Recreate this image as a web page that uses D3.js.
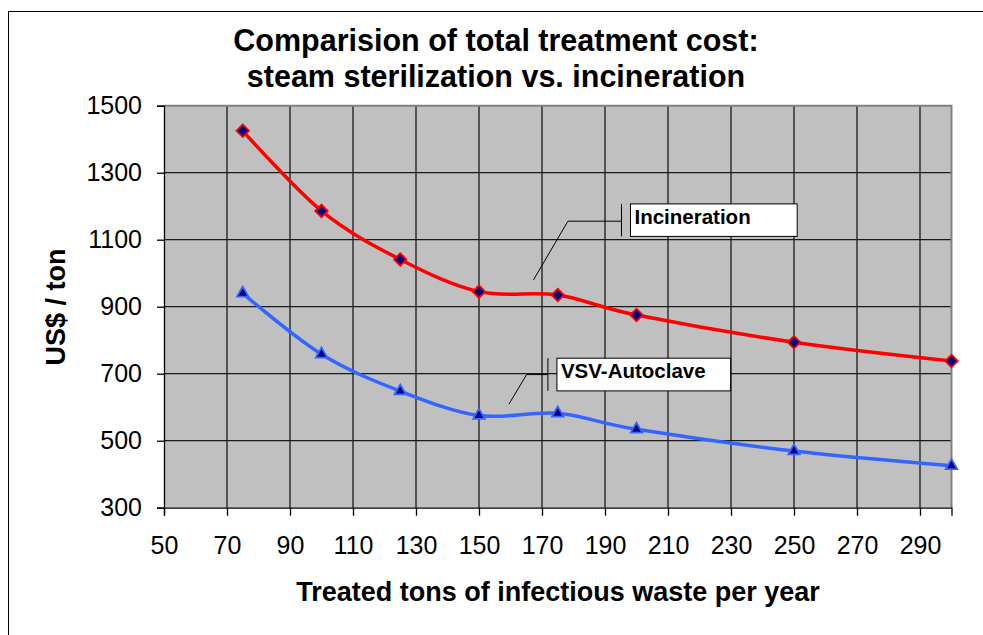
<!DOCTYPE html>
<html>
<head>
<meta charset="utf-8">
<script src="https://cdn.jsdelivr.net/npm/d3@7"></script>
<style>
  body { margin: 0; background: #fff; }
  svg { display: block; font-family: "Liberation Sans", Arial, sans-serif; }
</style>
</head>
<body>
<div id="chart"></div>
<script>
// data
const tons = [75, 100, 125, 150, 175, 200, 250, 300];
const incineration = [1425, 1186, 1041, 945, 935, 875, 794, 738];
const autoclave = [940, 758, 648, 575, 582, 534, 469, 425];
const xTicks = [50, 70, 90, 110, 130, 150, 170, 190, 210, 230, 250, 270, 290];
const yTicks = [300, 500, 700, 900, 1100, 1300, 1500];
const titleLines = ["Comparision of total treatment cost:", "steam sterilization vs. incineration"];

const W = 983, H = 635;
const margin = { top: 105.7, right: 31.5, bottom: 127.3, left: 164 };
const width = W - margin.left - margin.right;
const height = H - margin.top - margin.bottom;

const svg = d3.select("#chart").append("svg")
    .attr("width", W)
    .attr("height", H);

// outer chart frame (runs off the right and bottom edges)
svg.append("rect")
    .attr("x", 8.5).attr("y", 11.5)
    .attr("width", W + 20).attr("height", H + 20)
    .attr("fill", "none").attr("stroke", "#000").attr("stroke-width", 1);

const g = svg.append("g")
    .attr("transform", `translate(${margin.left}, ${margin.top})`);

const x = d3.scaleLinear().domain([50, 300]).range([0, width]);
const y = d3.scaleLinear().domain([300, 1500]).range([height, 0]);

g.append("rect")
    .attr("width", width).attr("height", height)
    .attr("fill", "#c0c0c0");

// grid
g.append("g").selectAll("line")
    .data(xTicks.slice(1))
    .join("line")
    .attr("x1", d => x(d)).attr("x2", d => x(d))
    .attr("y1", 0).attr("y2", height)
    .attr("stroke", "#1a1a1a").attr("stroke-width", 1.3);
g.append("g").selectAll("line")
    .data(yTicks.slice(1, -1))
    .join("line")
    .attr("x1", 0).attr("x2", width)
    .attr("y1", d => y(d)).attr("y2", d => y(d))
    .attr("stroke", "#1a1a1a").attr("stroke-width", 1.3);

// top and right frame of plot area
g.append("path")
    .attr("d", `M0,${y(1500)}H${x(300)}V${height}`)
    .attr("fill", "none").attr("stroke", "#808080").attr("stroke-width", 2);

const yAxis = g.append("g")
    .call(d3.axisLeft(y).tickValues(yTicks).tickFormat(d3.format("d")).tickSize(7).tickPadding(15));
const xAxis = g.append("g")
    .attr("transform", `translate(0, ${height})`)
    .call(d3.axisBottom(x).tickValues(xTicks).tickFormat(d3.format("d")).tickSize(8).tickPadding(21));

for (const ax of [xAxis, yAxis]) {
    ax.select(".domain").attr("stroke", "#000").attr("stroke-width", 1.3);
    ax.selectAll(".tick line").attr("stroke", "#000").attr("stroke-width", 1.3);
    ax.selectAll("text")
        .attr("fill", "#000")
        .style("font-family", "Liberation Sans, Arial, sans-serif")
        .style("font-size", "25px");
}

// series
const line = d3.line()
    .x(d => x(d[0]))
    .y(d => y(d[1]))
    .curve(d3.curveCardinal.tension(0));

const series = [
    { name: "Incineration", values: incineration, color: "#ff0000", symbol: "diamond" },
    { name: "VSV-Autoclave", values: autoclave, color: "#3366ff", symbol: "triangle" }
];

for (const s of series) {
    const pts = tons.map((t, i) => [t, s.values[i]]);
    g.append("path")
        .datum(pts)
        .attr("d", line)
        .attr("fill", "none")
        .attr("stroke", s.color)
        .attr("stroke-width", 3.5);

    const sym = s.symbol === "diamond"
        ? d3.symbol().type(d3.symbolSquare).size(78)
        : d3.symbol().type(d3.symbolTriangle).size(58);
    g.append("g").selectAll("path")
        .data(pts)
        .join("path")
        .attr("d", sym)
        .attr("transform", d => `translate(${x(d[0])}, ${y(d[1])})` + (s.symbol === "diamond" ? " rotate(45)" : ""))
        .attr("fill", "#000080")
        .attr("stroke", s.color)
        .attr("stroke-width", 1.8);
}

// callout labels: tip point in data units, the rest in pixel offsets
const callouts = [
    { text: "Incineration", tip: [167.3, 980], bend: [34.4, -58.7], bar: 88, top: -76, h: 32.5, w: 166.7 },
    { text: "VSV-Autoclave", tip: [159.5, 609], bend: [17.7, -29.6], bar: 39, top: -46, h: 32.7, w: 173.7 }
];

for (const c of callouts) {
    const tx = x(c.tip[0]), ty = y(c.tip[1]);
    const bx = tx + c.bend[0], by = ty + c.bend[1];
    const barX = tx + c.bar;
    g.append("path")
        .attr("d", `M${tx},${ty}L${bx},${by}H${barX}`)
        .attr("fill", "none").attr("stroke", "#000").attr("stroke-width", 1);
    g.append("line")
        .attr("x1", barX).attr("x2", barX)
        .attr("y1", ty + c.top).attr("y2", ty + c.top + c.h)
        .attr("stroke", "#000").attr("stroke-width", 1);
    g.append("rect")
        .attr("x", barX + 9).attr("y", ty + c.top)
        .attr("width", c.w).attr("height", c.h)
        .attr("fill", "#fff").attr("stroke", "#000").attr("stroke-width", 1);
    g.append("text")
        .attr("x", barX + 13).attr("y", ty + c.top + 20)
        .attr("font-size", 20.5).attr("font-weight", "bold")
        .text(c.text);
}

// titles
svg.append("text")
    .attr("x", 496).attr("y", 51)
    .attr("text-anchor", "middle")
    .attr("font-size", 30.5).attr("font-weight", "bold")
    .selectAll("tspan")
    .data(titleLines)
    .join("tspan")
    .attr("x", 496)
    .attr("dy", (d, i) => i ? 36 : 0)
    .text(d => d);

svg.append("text")
    .attr("x", 558).attr("y", 601)
    .attr("text-anchor", "middle")
    .attr("font-size", 27).attr("font-weight", "bold")
    .text("Treated tons of infectious waste per year");

svg.append("text")
    .attr("transform", "translate(65, 307) rotate(-90)")
    .attr("text-anchor", "middle")
    .attr("font-size", 27).attr("font-weight", "bold")
    .text("US$ / ton");
</script>
</body>
</html>
